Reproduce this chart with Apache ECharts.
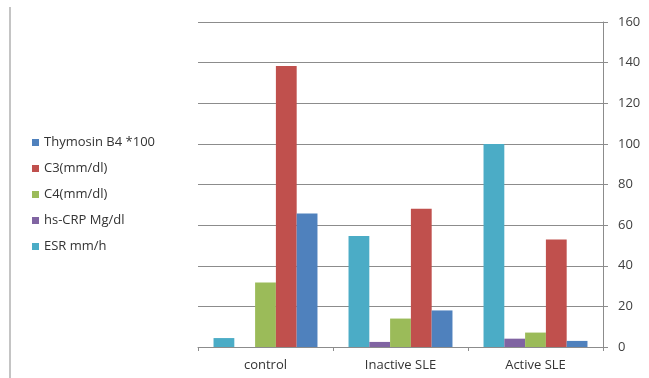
<!DOCTYPE html>
<html><head><meta charset="utf-8">
<script src="https://cdn.jsdelivr.net/npm/echarts@6/dist/echarts.min.js"></script>
<style>html,body{margin:0;padding:0;background:#fff}#c{width:649px;height:378px}</style>
</head><body><div id="c"></div>
<script>
var categories = ['control', 'Inactive SLE', 'Active SLE'];
var esr = [4.4, 54.7, 100];
var hsCrp = [0, 2.5, 4.1];
var c4 = [31.7, 14, 7.1];
var c3 = [138.4, 68.1, 52.9];
var thymosin = [65.7, 18, 3];
var seriesNames = ['ESR mm/h', 'hs-CRP Mg/dl', 'C4(mm/dl)', 'C3(mm/dl)', 'Thymosin B4 *100'];
var legendOrder = ['Thymosin B4 *100', 'C3(mm/dl)', 'C4(mm/dl)', 'hs-CRP Mg/dl', 'ESR mm/h'];
var yTicks = {min: 0, max: 160, interval: 20};

var colors = ['#4BACC6', '#8064A2', '#9BBB59', '#C0504D', '#4F81BD'];
var values = [esr, hsCrp, c4, c3, thymosin];
var font = '"Open Sans", "Liberation Sans", sans-serif';

var chart = echarts.init(document.getElementById('c'));
chart.setOption({
  animation: false,
  textStyle: {fontFamily: font},
  grid: {left: 198, right: 46, top: 22, bottom: 31},
  legend: {
    orient: 'vertical', left: 27, top: 131,
    data: legendOrder, itemWidth: 7, itemHeight: 7, itemGap: 13,
    icon: 'rect',
    textStyle: {fontSize: 13, color: '#333', fontFamily: font}
  },
  graphic: [{
    type: 'line', shape: {x1: 10, y1: 7, x2: 10, y2: 378},
    style: {stroke: '#b0b0b0', lineWidth: 1.5}
  }],
  xAxis: {
    type: 'category', data: categories,
    axisLine: {lineStyle: {color: '#8c8c8c'}},
    axisTick: {show: true, length: 4, lineStyle: {color: '#8c8c8c'}},
    axisLabel: {fontSize: 13, color: '#333', margin: 12, fontFamily: font}
  },
  yAxis: {
    type: 'value', position: 'right',
    min: yTicks.min, max: yTicks.max, interval: yTicks.interval,
    axisLine: {show: true, lineStyle: {color: '#8c8c8c'}},
    axisTick: {show: true, length: 5, lineStyle: {color: '#8c8c8c'}},
    splitLine: {lineStyle: {color: '#8c8c8c'}},
    axisLabel: {fontSize: 13, color: '#404040', margin: 15, fontFamily: font}
  },
  series: seriesNames.map(function (n, i) {
    return {
      name: n, type: 'bar', data: values[i],
      barGap: 0, barCategoryGap: '23%',
      itemStyle: {color: colors[i]}
    };
  })
});
</script></body></html>
